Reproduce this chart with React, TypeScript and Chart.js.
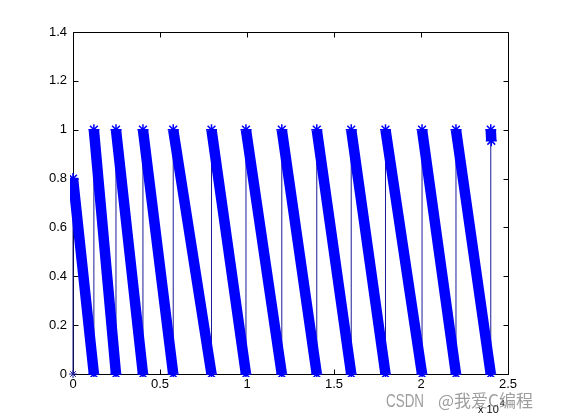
import { useEffect, useRef } from 'react';
import { Chart, registerables } from 'chart.js';

Chart.register(...registerables);

// Sawtooth segments: each starts at (startX, startY) and falls to (endX, endY)
const startX = [0, 1200, 2470, 4020, 5760, 7960, 9940, 12000, 14010, 15990, 17960, 20060, 22010, 24010];
const startY = [0.8, 1, 1, 1, 1, 1, 1, 1, 1, 1, 1, 1, 1, 1];
const endX = [1200, 2470, 4020, 5760, 7960, 9940, 12000, 14010, 15990, 17960, 20060, 22010, 24010, 24040];
const endY = [0, 0, 0, 0, 0, 0, 0, 0, 0, 0, 0, 0, 0, 0.955];
const originPoint = [{ x: 0, y: 0 }];

const xMin = 0;
const xMax = 25000;
const xStep = 5000;
const yMin = 0;
const yMax = 1.4;
const yStep = 0.2;
const xExponentBase = 'x 10';
const xExponent = '4';
const watermarkLeft = 'CSDN';
const watermarkRight = '@我爱C编程';

const FONT = '"Liberation Sans", Arial, Helvetica, sans-serif';

const boxPlugin = {
  id: 'matlabBox',
  beforeDatasetsDraw(chart: any) {
    const { ctx, chartArea, scales } = chart;
    const { left, top, right, bottom } = chartArea;
    const L = Math.round(left) + 0.5;
    const R = Math.round(right) + 0.5;
    const T = Math.round(top) + 0.5;
    const B = Math.round(bottom) + 0.5;
    ctx.save();
    ctx.strokeStyle = '#000';
    ctx.lineWidth = 1;
    ctx.beginPath();
    ctx.rect(L, T, R - L, B - T);
    const tl = 5;
    scales.x.ticks.forEach((t: any) => {
      const px = Math.round(scales.x.getPixelForValue(t.value)) + 0.5;
      ctx.moveTo(px, B);
      ctx.lineTo(px, B - tl);
      ctx.moveTo(px, T);
      ctx.lineTo(px, T + tl);
    });
    scales.y.ticks.forEach((t: any) => {
      const py = Math.round(scales.y.getPixelForValue(t.value)) + 0.5;
      ctx.moveTo(L, py);
      ctx.lineTo(L + tl, py);
      ctx.moveTo(R, py);
      ctx.lineTo(R - tl, py);
    });
    ctx.stroke();
    ctx.restore();
  },
  afterDraw(chart: any) {
    const { ctx, chartArea } = chart;
    const { right, bottom } = chartArea;
    ctx.save();
    ctx.fillStyle = '#000';
    ctx.textBaseline = 'alphabetic';
    ctx.textAlign = 'left';
    ctx.font = `11px ${FONT}`;
    const bx = right - 30;
    const by = bottom + 39;
    ctx.fillText(xExponentBase, bx, by);
    const w = ctx.measureText(xExponentBase).width;
    ctx.font = `9px ${FONT}`;
    ctx.fillText(xExponent, bx + w + 1, by - 7);
    // watermark
    ctx.fillStyle = 'rgba(140,140,140,0.85)';
    ctx.font = `19px ${FONT}`;
    ctx.fillText(watermarkLeft, 386, 407, 38);
    ctx.font = `17px "Noto Sans CJK SC", ${FONT}`;
    ctx.fillText(watermarkRight, 438, 407, 110);
    ctx.restore();
  },
};

export default function App() {
  const ref = useRef<HTMLCanvasElement | null>(null);

  useEffect(() => {
    if (!ref.current) return;
    const thick: any[] = [];
    const thin: any[] = [{ x: originPoint[0].x, y: originPoint[0].y }];
    for (let i = 0; i < startX.length; i++) {
      thick.push({ x: startX[i], y: startY[i] });
      thick.push({ x: endX[i], y: endY[i] });
      thick.push({ x: endX[i], y: null });
      thin.push({ x: startX[i], y: startY[i] });
      thin.push({ x: endX[i], y: endY[i] });
    }
    const chart = new Chart(ref.current, {
      type: 'line',
      data: {
        datasets: [
          {
            data: originPoint,
            showLine: false,
            pointStyle: 'star',
            pointRadius: 4,
            pointBorderWidth: 1,
            pointBorderColor: '#1a1a9a',
            pointBackgroundColor: '#1a1a9a',
            clip: false,
          } as any,
          {
            data: thick,
            borderColor: '#0000ff',
            backgroundColor: '#0000ff',
            borderWidth: 10.5,
            borderCapStyle: 'butt',
            borderJoinStyle: 'round',
            spanGaps: false,
            tension: 0,
            pointStyle: 'star',
            pointRadius: 5.5,
            pointBorderWidth: 1.5,
            pointBorderColor: '#0000ff',
            pointBackgroundColor: '#0000ff',
            clip: { left: 3, top: false, right: false, bottom: 3 },
          } as any,
          {
            data: thin,
            borderColor: '#1c1c98',
            borderWidth: 1,
            pointRadius: 0,
            tension: 0,
            clip: false,
          } as any,
        ],
      },
      options: {
        animation: false,
        responsive: false,
        events: [],
        layout: { padding: { left: 0, top: 32, right: 53, bottom: 0 } },
        plugins: { legend: { display: false }, tooltip: { enabled: false } },
        scales: {
          x: {
            type: 'linear',
            min: xMin,
            max: xMax,
            grid: { display: false, drawTicks: false },
            border: { display: false },
            ticks: {
              stepSize: xStep,
              padding: 3,
              color: '#000',
              font: { size: 13, family: FONT },
              maxRotation: 0,
              callback: (v: any) => String(Number(v) / 10000),
            },
            afterFit: (s: any) => {
              s.height = 46;
            },
          },
          y: {
            type: 'linear',
            min: yMin,
            max: yMax,
            grid: { display: false, drawTicks: false },
            border: { display: false },
            ticks: {
              stepSize: yStep,
              padding: 6,
              color: '#000',
              font: { size: 13, family: FONT },
              callback: (v: any) => String(Math.round(Number(v) * 10) / 10),
            },
            afterFit: (s: any) => {
              s.width = 73;
            },
          },
        },
      },
      plugins: [boxPlugin],
    });
    return () => chart.destroy();
  }, []);

  return (
    <div style={{ position: 'absolute', left: 0, top: 0, width: 561, height: 420, background: '#fff' }}>
      <canvas ref={ref} width={561} height={420} style={{ display: 'block' }} />
    </div>
  );
}
